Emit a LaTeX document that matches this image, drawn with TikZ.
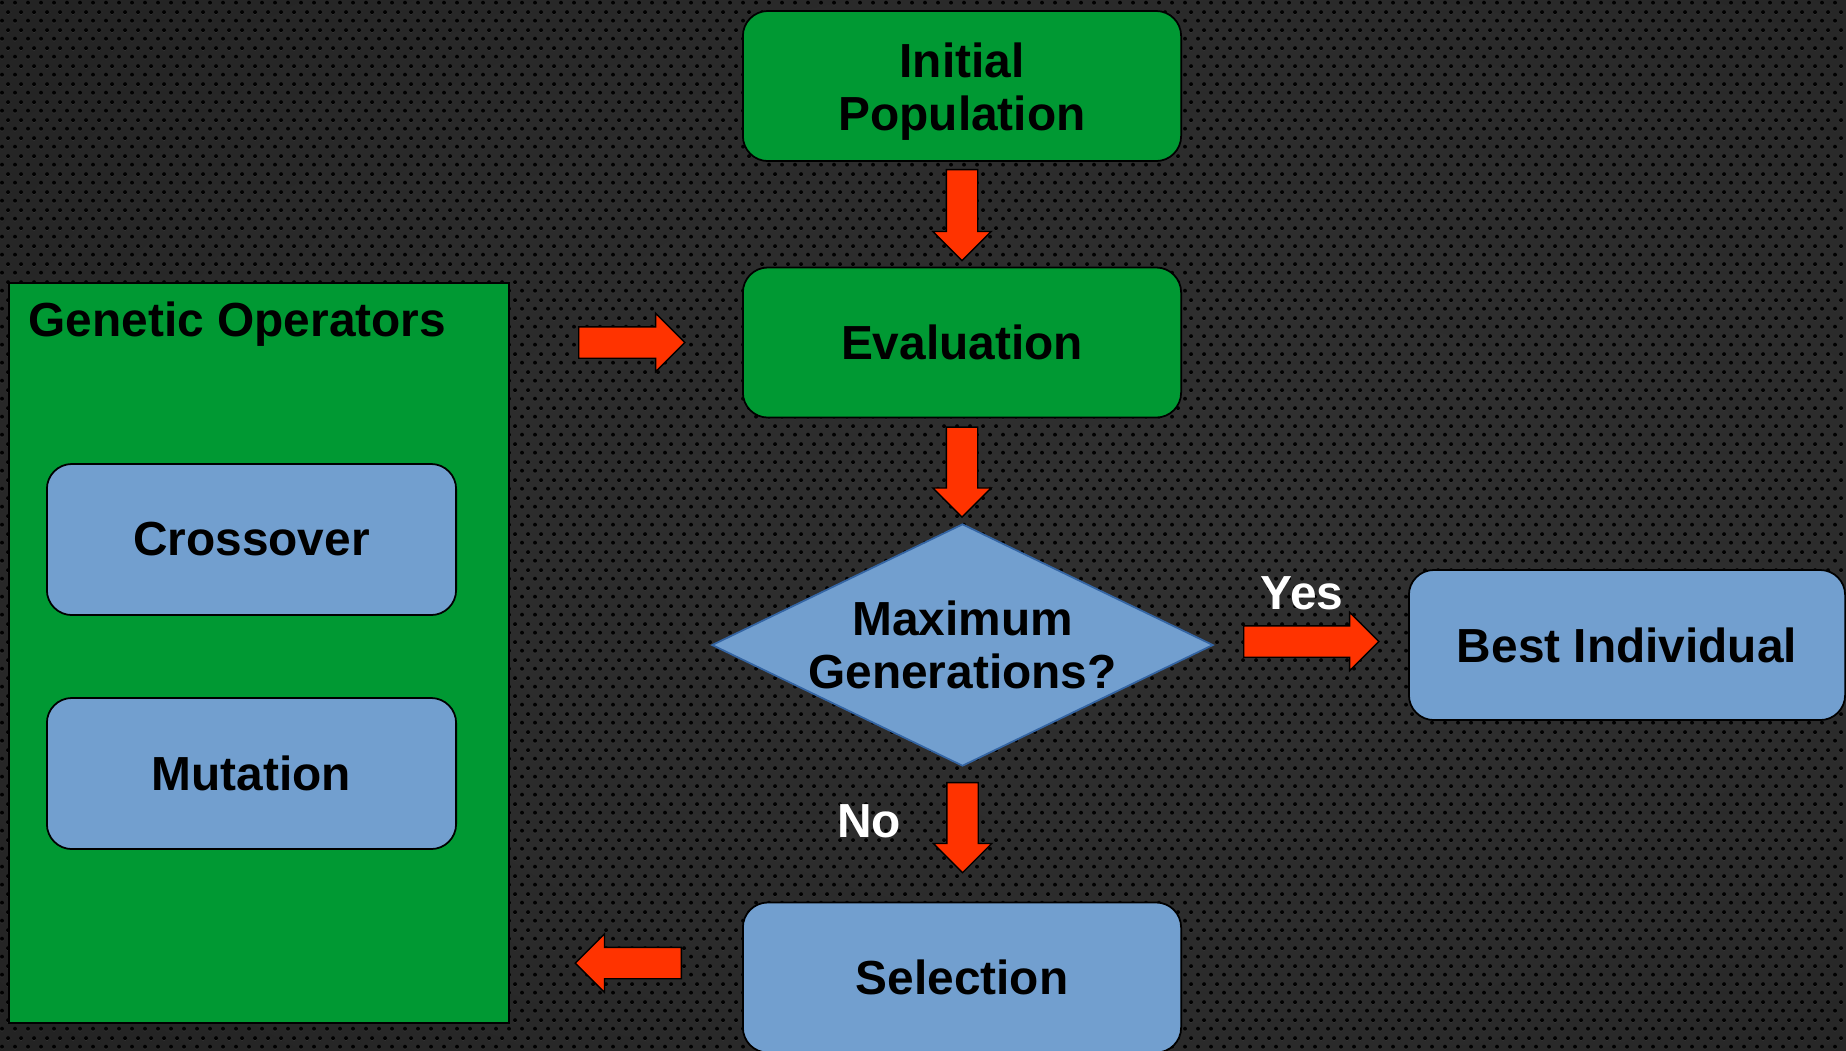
\documentclass[tikz,border=0pt]{standalone}
\usepackage{fontspec}
\setmainfont{Liberation Sans}
\usetikzlibrary{shapes.geometric,shapes.arrows,patterns.meta,calc}
\definecolor{gagreen}{HTML}{009933}
\definecolor{gablue}{HTML}{729FCF}
\definecolor{gared}{HTML}{FF3300}
\definecolor{gaedge}{HTML}{3465A4}
\definecolor{bgin}{HTML}{303030}
\definecolor{bgout}{HTML}{131313}
\definecolor{dothl}{HTML}{3D3D3D}
\pgfdeclareradialshading{bgshade}{\pgfpoint{10bp}{0bp}}{color(0bp)=(bgin); color(25bp)=(bgin!80!bgout); color(65bp)=(bgout)}
\tikzdeclarepattern{
  name=perf, type=colored,
  bounding box={(0,0) and (0.13cm,0.18cm)},
  tile size={(0.13cm,0.18cm)},
  code={
    \fill[dothl] (0.0325cm,0.035cm) circle (0.02cm);
    \fill[dothl] (0.0975cm,0.125cm) circle (0.02cm);
    \fill[black] (0.0325cm,0.045cm) circle (0.021cm);
    \fill[black] (0.0975cm,0.135cm) circle (0.021cm);
  }
}
\begin{document}
\begin{tikzpicture}[x=0.01cm,y=-0.01cm,
  every node/.style={font=\fontsize{13.6}{15.1}\selectfont\bfseries},
  greenbox/.style={draw=black, line width=0.5pt, fill=gagreen, rounded corners=0.25cm,
    minimum width=4.38cm, minimum height=1.5cm, align=center, inner sep=0pt},
  bluebox/.style={greenbox, fill=gablue},
  decision/.style={diamond, draw=gaedge, line width=0.5pt, fill=gablue, inner sep=0pt,
    minimum width=5.01cm, minimum height=2.42cm, aspect=2.07},
  blockarrow/.style={single arrow, draw=black, line width=0.4pt, fill=gared, anchor=tail,
    inner sep=0pt, inner ysep=0.15cm, single arrow head extend=0.135cm, minimum width=0pt},
  whitelabel/.style={text=white, inner sep=0pt}
]
\path[use as bounding box] (0,0) rectangle (1846,1050);
\clip (0,0) rectangle (1846,1050);
\shade[shading=bgshade] (0,0) rectangle (1846,1050);
\fill[pattern=perf] (0,0) rectangle (1846,1050);

% main flow
\node[greenbox, label={[align=center, yshift=-0.06cm]center:Initial\\Population}] (init) at (962,86) {};
\node[greenbox] (eval) at (962,342.5) {Evaluation};
\node[decision, label={[align=center]center:Maximum\\Generations?}] (dec) at (962.5,645) {};
\node[bluebox, minimum width=4.36cm] (best) at (1627,645) {Best Individual};
\node[bluebox] (sel) at (962,977.5) {Selection};

% genetic operators panel
\node[draw=black, line width=0.5pt, fill=gagreen, minimum width=5cm, minimum height=7.4cm, inner sep=0pt] (gen) at (259,653) {};
\node[anchor=west, inner sep=0pt] (gentitle) at (28,324) {Genetic Operators};
\node[bluebox, minimum width=4.09cm, minimum height=1.51cm] (cross) at (251.5,539.5) {Crossover};
\node[bluebox, minimum width=4.09cm, minimum height=1.51cm] (mut) at (251.5,773.5) {Mutation};

% block arrows (placed by their tails)
\node[blockarrow, rotate=-90, minimum height=0.91cm] (a1) at ($(init.south)+(0,7)$) {};
\node[blockarrow, rotate=-90, minimum height=0.90cm] (a2) at ($(eval.south)+(0,8)$) {};
\node[blockarrow, rotate=-90, minimum height=0.90cm] (a3) at ($(dec.south)+(0,15)$) {};
\node[blockarrow, minimum height=1.06cm] (a4) at ($(gen.east |- eval.center)+(68,0)$) {};
\node[blockarrow, minimum height=1.35cm] (a5) at ($(dec.east)+(29,-3.5)$) {};
\node[blockarrow, rotate=180, minimum height=1.06cm] (a6) at ($(sel.west)+(-60,-14.5)$) {};

% labels
\node[whitelabel] (yes) at (1302,593) {Yes};
\node[whitelabel] (no) at (869,821) {No};
\end{tikzpicture}
\end{document}
